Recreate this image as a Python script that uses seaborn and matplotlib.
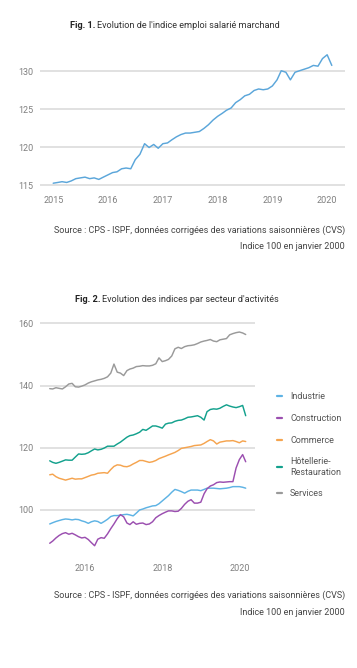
import matplotlib
matplotlib.use("Agg")
import matplotlib.pyplot as plt
import matplotlib.dates as mdates
import seaborn as sns
import pandas as pd
import numpy as np

# ---------------- data ----------------
# Fig. 1 : indice emploi salarié marchand (mensuel, janv. 2015 - févr. 2020)
emploi = [
    115.3, 115.4, 115.5, 115.4, 115.6, 115.9, 116.0, 116.1, 115.9, 116.0, 115.8, 116.1,
    116.4, 116.7, 116.8, 117.2, 117.3, 117.2, 118.4, 119.1, 120.5, 120.0, 120.4, 119.9,
    120.5, 120.6, 121.0, 121.4, 121.7, 121.9, 121.9, 122.0, 122.1, 122.5, 123.0, 123.6,
    124.1, 124.5, 124.9, 125.2, 125.9, 126.3, 126.8, 127.0, 127.5, 127.7, 127.6, 127.7,
    128.1, 128.9, 130.1, 129.9, 128.9, 129.9, 130.1, 130.3, 130.5, 130.8, 130.7, 131.7,
    132.2, 130.8,
]
dates1 = pd.date_range("2015-01-01", periods=len(emploi), freq="MS")

# Fig. 2 : indices par secteur (mensuel, févr. 2015 - mars 2020)
industrie = [
    95.5, 95.9, 96.3, 96.6, 96.9, 97.1, 97.0, 96.8, 97.0, 96.9, 96.5,
    96.2, 95.7, 96.2, 96.5, 96.3, 95.7, 96.3, 97.0, 97.9, 98.2, 98.2, 98.3,
    98.5, 98.6, 98.4, 98.1, 99.0, 100.0, 100.3, 100.7, 101.0, 101.3, 101.4, 102.0,
    102.9, 103.8, 104.6, 105.7, 106.6, 106.3, 105.9, 105.4, 106.0, 106.4, 106.4, 106.4,
    106.2, 106.6, 107.0, 107.0, 107.0, 106.9, 106.8, 106.9, 107.0, 107.2, 107.5, 107.5,
    107.5, 107.3, 107.0,
]
construction = [
    89.3, 90.0, 91.0, 91.8, 92.4, 92.7, 92.2, 92.5, 92.0, 91.4, 91.0,
    91.2, 90.5, 89.5, 88.5, 90.6, 91.1, 90.9, 92.3, 94.0, 95.5, 97.2, 98.5,
    97.8, 95.8, 95.3, 96.2, 95.4, 95.7, 95.8, 95.3, 95.5, 96.2, 97.5, 98.2,
    98.8, 99.3, 99.7, 99.7, 99.5, 99.6, 100.5, 101.8, 102.8, 103.3, 102.2, 102.2,
    102.5, 105.2, 106.8, 107.7, 108.1, 108.8, 109.0, 108.9, 109.0, 109.1, 109.1, 113.5,
    116.2, 117.8, 115.5,
]
commerce = [
    111.3, 111.5, 110.7, 110.2, 109.9, 109.6, 109.9, 110.2, 109.9, 110.0, 110.0,
    110.4, 110.8, 111.2, 111.4, 111.8, 111.9, 112.0, 111.8, 113.0, 114.0, 114.5, 114.4,
    114.0, 113.9, 114.2, 114.8, 115.3, 115.9, 115.9, 115.6, 115.3, 115.5, 115.9, 116.5,
    116.9, 117.3, 117.7, 118.1, 118.5, 119.1, 119.8, 120.0, 120.2, 120.4, 120.7, 120.8,
    120.9, 121.4, 122.0, 122.6, 122.2, 121.2, 121.8, 122.0, 122.2, 122.2, 122.3, 122.0,
    121.6, 122.2, 122.0,
]
hotellerie = [
    115.8, 115.3, 115.0, 115.3, 115.7, 116.1, 116.0, 116.0, 117.0, 118.0, 117.9,
    118.0, 118.4, 119.0, 119.6, 119.3, 119.5, 119.9, 120.5, 120.5, 120.5, 121.2, 121.8,
    122.6, 123.4, 123.9, 124.1, 124.5, 125.0, 125.9, 125.6, 126.3, 127.0, 127.0, 126.7,
    126.3, 127.6, 127.9, 128.0, 128.5, 128.8, 128.9, 129.3, 129.8, 129.9, 130.1, 130.3,
    129.8, 128.9, 131.6, 132.3, 132.5, 132.4, 132.7, 133.3, 133.8, 133.4, 133.1, 132.9,
    133.2, 133.6, 130.3,
]
services = [
    139.0, 138.9, 139.3, 139.1, 138.9, 139.6, 140.5, 140.7, 139.6, 139.5, 139.8,
    140.2, 140.8, 141.2, 141.5, 141.8, 142.0, 142.3, 142.8, 144.0, 146.9, 144.3, 144.0,
    143.2, 144.8, 145.3, 145.6, 146.1, 146.2, 146.4, 146.3, 146.3, 146.5, 147.0, 148.9,
    147.7, 148.0, 148.4, 149.5, 151.8, 152.3, 151.9, 152.5, 152.8, 152.9, 153.1, 153.5,
    154.0, 154.3, 154.5, 154.8, 154.3, 154.1, 154.7, 154.9, 155.1, 156.3, 156.7, 157.0,
    157.2, 156.9, 156.4,
]
dates2 = pd.date_range("2015-02-01", periods=len(industrie), freq="MS")

secteurs = ["Industrie", "Construction", "Commerce", "Hôtellerie-\nRestauration", "Services"]
couleurs = ["#5eb3e4", "#9b4fb0", "#f5a44f", "#13a18d", "#9a9a9a"]

yticks1 = [115, 120, 125, 130]
yticks2 = [100, 120, 140, 160]

# ---------------- style ----------------
sns.set_style("white")
plt.rcParams["font.family"] = ["Roboto", "DejaVu Sans"]
plt.rcParams["font.size"] = 6.5

W, H = 357, 668
fig = plt.figure(figsize=(W / 100, H / 100), dpi=100)

def fx(px):
    return px / W

def fy(py):
    return 1 - py / H

grid_c = "#d9d9d9"
tick_c = "#7f7f7f"
text_c = "#444444"
FS = 6.5

def style_axes(ax):
    for s in ax.spines.values():
        s.set_visible(False)
    ax.yaxis.grid(True, color=grid_c, linewidth=1.1)
    ax.xaxis.grid(False)
    ax.tick_params(axis="both", which="major", length=2.5, width=0.9, color="#333333",
                   labelcolor=tick_c, labelsize=FS, pad=2.5)
    ax.tick_params(axis="x", pad=3)
    ax.set_xlabel("")
    ax.set_ylabel("")

# ---------------- Fig. 1 ----------------
ax1 = fig.add_axes([fx(40), fy(188), fx(345) - fx(40), (188 - 48.7) / H])
df1 = pd.DataFrame({"date": dates1, "indice": emploi})
sns.lineplot(data=df1, x="date", y="indice", ax=ax1, color="#5ba6da", linewidth=1.05)
ax1.set_ylim(114.67, 133)
ax1.set_yticks(yticks1)
ax1.set_xlim(pd.Timestamp("2014-10-05"), pd.Timestamp("2020-04-29"))
ax1.xaxis.set_major_locator(mdates.YearLocator(1))
ax1.xaxis.set_major_formatter(mdates.DateFormatter("%Y"))
style_axes(ax1)

fig.text(fx(95.5), fy(26), "Fig. 1.", ha="right", va="center", fontsize=6.6,
         fontweight="bold", color="#222222")
fig.text(fx(97.5), fy(26), "Evolution de l'indice emploi salarié marchand", ha="left",
         va="center", fontsize=6.6, color="#333333")
fig.text(fx(345), fy(230), "Source : CPS - ISPF, données corrigées des variations saisonnières (CVS)",
         ha="right", va="center", fontsize=FS, color=text_c)
fig.text(fx(345), fy(246), "Indice 100 en janvier 2000", ha="right", va="center",
         fontsize=FS, color=text_c)

# ---------------- Fig. 2 ----------------
ax2 = fig.add_axes([fx(40), fy(556), fx(255) - fx(40), (556 - 317.1) / H])
series = [industrie, construction, commerce, hotellerie, services]
df2 = pd.concat(
    [pd.DataFrame({"date": dates2, "indice": v, "secteur": s}) for s, v in zip(secteurs, series)],
    ignore_index=True,
)
sns.lineplot(data=df2, x="date", y="indice", hue="secteur", hue_order=secteurs,
             palette=dict(zip(secteurs, couleurs)), ax=ax2, linewidth=1.05)
ax2.set_ylim(85.2, 162)
ax2.set_yticks(yticks2)
ax2.set_xlim(pd.Timestamp("2014-11-01"), pd.Timestamp("2020-05-28"))
ax2.xaxis.set_major_locator(mdates.YearLocator(2))
ax2.xaxis.set_major_formatter(mdates.DateFormatter("%Y"))
style_axes(ax2)

handles, labels = ax2.get_legend_handles_labels()
for h in handles:
    h.set_linewidth(1.6)
leg = ax2.legend(handles, labels, loc="upper left", bbox_to_anchor=(fx(277), fy(392.5)),
                 bbox_transform=fig.transFigure, frameon=False, fontsize=FS,
                 handlelength=0.6, handletextpad=0.85, labelspacing=1.4,
                 borderpad=0, borderaxespad=0)
for t in leg.get_texts():
    t.set_color("#555555")

fig.text(fx(100.5), fy(299), "Fig. 2.", ha="right", va="center", fontsize=6.6,
         fontweight="bold", color="#222222")
fig.text(fx(102), fy(299), "Evolution des indices par secteur d'activités", ha="left",
         va="center", fontsize=6.6, color="#333333")
fig.text(fx(345), fy(595), "Source : CPS - ISPF, données corrigées des variations saisonnières (CVS)",
         ha="right", va="center", fontsize=FS, color=text_c)
fig.text(fx(345), fy(612.7), "Indice 100 en janvier 2000", ha="right", va="center",
         fontsize=FS, color=text_c)

fig.savefig("out.png", dpi=100, facecolor="white")
